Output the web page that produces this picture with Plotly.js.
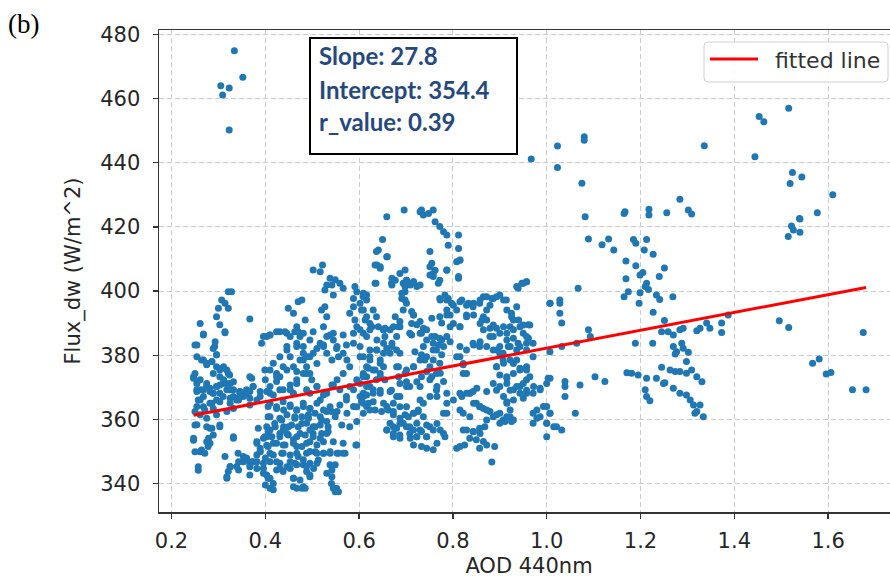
<!DOCTYPE html>
<html>
<head>
<meta charset="utf-8">
<script src="https://cdn.plot.ly/plotly-3.0.1.min.js"></script>
<style>
html,body{margin:0;padding:0;overflow:hidden;background:#fff;}
#chart{width:899px;height:579px;}
</style>
</head>
<body>
<div id="chart"></div>
<script>
// ---- data (AOD 440nm, Flux_dw) ----
const outlierPts = [[0.334,474.9],[0.352,466.7],[0.305,464.0],[0.323,463.3],[0.309,461.1],[0.323,450.2]];

const leftClusterPts = [
[0.321,399.8],[0.328,399.8],[0.307,397.2],[0.314,396.2],[0.300,394.6],[0.321,394.6],[0.296,392.0],[0.303,389.5],[0.314,387.3],[0.292,382.7],[0.296,380.1],[0.261,389.9],[0.268,386.3],[0.254,383.2],[0.254,379.5],[0.247,373.3],[0.268,378.5],[0.275,377.0],[0.286,378.0],[0.296,376.4],[0.307,375.9],[0.318,375.4],[0.289,374.3],[0.303,373.3],[0.324,373.8],[0.310,371.2],[0.332,371.7],[0.296,370.2],[0.282,368.7],[0.324,369.2],[0.346,368.7],[0.367,368.7],[0.339,366.6],[0.367,391.3],[0.254,368.7],[0.268,367.1],
[0.254,371.2],[0.261,369.2],[0.275,370.2],[0.289,368.1],[0.303,370.7],[0.318,371.2],[0.332,369.2],[0.346,368.1],[0.360,369.2],[0.374,370.2],[0.389,368.7],[0.257,366.0],[0.268,363.9],[0.282,365.0],[0.296,366.0],[0.310,367.1],[0.325,366.6],[0.339,366.0],[0.353,367.1],[0.367,366.6],[0.250,362.4],[0.261,361.4],[0.275,360.3],[0.296,361.4],[0.318,362.4],[0.332,363.4],[0.254,358.3],[0.282,357.2],[0.303,357.7],[0.289,355.1],[0.247,353.5],[0.275,353.0],[0.261,349.9],[0.250,349.9],[0.278,351.5],[0.332,354.1],[0.257,344.1],[0.342,349.4],[0.325,345.3],[0.321,343.7],[0.318,341.6],[0.339,345.3],[0.353,346.8],[0.367,345.8],[0.360,347.9],[0.382,344.7],[0.374,346.8],[0.367,342.6],[0.389,351.0],[0.382,353.0],[0.396,354.1],[0.403,351.9],[0.385,357.2],[0.406,356.2]
];

const denseLowPts = [
[0.268,386.6],[0.314,387.0],[0.250,383.2],[0.293,384.2],[0.289,382.1],[0.296,380.1],[0.264,378.5],[0.275,377.5],[0.286,378.0],[0.250,374.3],[0.247,372.8],[0.261,372.3],[0.275,371.2],[0.254,369.2],[0.268,369.2],[0.282,369.7],[0.289,368.1],[0.303,368.1],[0.296,370.2],[0.311,372.3],[0.321,374.3],[0.325,371.2],[0.318,369.2],[0.303,375.4],[0.311,376.4],[0.332,367.1],[0.346,368.6],[0.360,368.1],[0.343,366.0],[0.325,365.0],[0.303,365.5],[0.286,365.0],[0.261,366.0],[0.254,364.0],[0.271,362.9],[0.289,363.4],[0.371,372.8],[0.382,366.0],[0.367,364.5],[0.250,358.2],[0.275,357.7],[0.286,357.2],[0.303,358.2],[0.247,354.1],[0.279,354.1],[0.332,354.6],[0.264,350.4],[0.282,352.5],[0.257,345.2],[0.271,349.4],
[0.314,348.4],[0.325,345.2],[0.318,342.1],[0.343,346.8],[0.353,348.4],[0.360,347.3],[0.371,346.8],[0.382,348.9],[0.367,345.2],[0.343,344.2],
[0.403,385.8],[0.392,383.7],[0.410,386.3],[0.431,387.3],[0.446,386.8],[0.463,387.3],[0.481,386.8],[0.502,387.3],[0.531,385.8],[0.545,386.8],[0.566,386.3],[0.573,383.2],[0.552,382.1],[0.524,383.2],[0.510,382.1],[0.467,383.7],[0.481,380.6],[0.495,379.5],[0.446,381.6],[0.431,379.5],[0.417,377.5],[0.399,375.4],[0.424,374.3],[0.446,375.4],[0.467,374.9],[0.488,374.3],[0.499,372.3],[0.510,370.2],[0.531,368.1],[0.545,370.7],[0.559,369.2],[0.573,367.1],[0.588,369.2],[0.602,371.2],[0.616,373.3],[0.630,375.4],[0.645,378.5],[0.623,381.6],[0.602,379.5],[0.588,383.7],[0.467,371.2],[0.453,369.2],[0.431,369.2],[0.410,368.1],[0.495,368.1],[0.517,366.0],[0.431,373.3],
[0.406,364.0],[0.424,363.4],[0.439,362.9],[0.453,364.0],[0.467,362.9],[0.481,364.0],[0.495,363.4],[0.410,360.8],[0.431,360.3],[0.446,361.4],[0.463,360.3],[0.478,360.8],[0.492,361.4],[0.506,361.9],[0.517,360.8],[0.531,362.4],[0.403,357.7],[0.421,357.7],[0.439,357.7],[0.456,358.2],[0.470,357.7],[0.488,358.8],[0.502,357.7],[0.517,358.2],[0.531,359.3],[0.414,354.6],[0.431,355.6],[0.449,355.1],[0.467,354.6],[0.485,355.1],[0.502,355.6],[0.520,355.6],[0.534,356.2],[0.406,351.5],[0.424,352.5],[0.442,352.0],[0.460,352.5],[0.478,351.5],[0.495,353.0],[0.510,352.0],[0.524,353.0],[0.417,348.9],[0.435,349.4],[0.453,348.9],[0.470,348.4],[0.488,349.4],[0.506,349.9],[0.524,349.4],[0.538,349.9],[0.556,349.4],[0.570,349.4],[0.396,346.3],[0.410,346.8],[0.431,346.3],[0.446,345.2],[0.463,346.3],[0.481,345.8],[0.495,346.3],[0.513,347.3],[0.488,343.7],[0.396,343.2],[0.406,341.6],[0.417,340.0],[0.460,341.6],[0.474,341.1],[0.495,342.1],[0.531,343.2],[0.538,345.8],[0.541,340.0],[0.552,338.5],[0.460,339.0],[0.481,339.0],[0.382,352.5],[0.389,349.9],[0.399,354.6],
[0.541,362.4],[0.559,364.5],[0.573,366.0],[0.588,364.0],[0.605,365.5],[0.616,367.6],[0.630,369.2],[0.609,367.1],[0.616,364.0],[0.630,365.5],[0.637,372.3]
];

const centralClusterPts = [
[0.396,385.8],[0.410,386.3],[0.424,387.3],[0.442,387.3],[0.453,385.8],[0.446,382.7],[0.453,379.5],[0.438,376.4],[0.424,373.3],[0.410,375.4],[0.400,372.3],[0.410,370.2],[0.424,371.8],[0.438,369.2],[0.453,370.7],[0.467,372.3],[0.481,374.3],[0.460,376.4],[0.474,378.5],[0.488,376.4],[0.495,374.3],[0.510,370.2],[0.488,369.2],[0.460,368.1],[0.417,367.6],[0.403,368.7],[0.389,367.1],[0.374,370.2],[0.360,368.1],[0.367,373.3],
[0.449,394.6],[0.460,393.1],[0.470,396.7],[0.478,397.2],[0.485,391.0],[0.467,388.9],[0.470,387.3],[0.474,385.8],[0.467,382.7],[0.481,382.7],[0.495,384.7],[0.502,380.6],[0.488,379.5],[0.510,377.4],[0.481,378.5],
[0.502,406.6],[0.522,408.1],[0.517,406.0],[0.538,404.0],[0.549,403.5],[0.559,402.4],[0.566,400.9],[0.542,401.9],[0.531,401.9],[0.545,398.8],[0.527,400.3],
[0.410,365.0],[0.424,363.9],[0.438,365.5],[0.453,364.5],[0.467,362.9],[0.481,365.0],[0.495,363.4],[0.510,365.0],[0.524,362.9],[0.538,363.9],[0.553,362.4],[0.574,361.9],[0.595,363.9],[0.609,365.0],[0.623,362.9],
[0.406,360.8],[0.420,358.7],[0.435,359.8],[0.449,357.7],[0.463,360.8],[0.478,358.7],[0.492,360.3],[0.506,357.7],[0.520,359.8],[0.534,357.7],[0.549,360.8],[0.563,358.2],[0.580,357.7],[0.595,359.3],[0.410,356.7],[0.438,356.7],
[0.403,354.6],[0.417,352.5],[0.431,354.6],[0.446,355.6],[0.460,353.6],[0.474,355.6],[0.488,352.5],[0.502,354.6],[0.517,354.1],[0.531,355.6],[0.545,353.0],[0.566,352.5],[0.595,352.0],[0.438,352.0],[0.467,351.5],[0.495,356.7],
[0.389,350.0],[0.400,347.9],[0.410,349.4],[0.424,346.8],[0.438,349.4],[0.453,346.8],[0.467,349.4],[0.481,347.4],[0.495,350.0],[0.510,349.4],[0.524,349.4],[0.538,349.4],[0.553,349.4],[0.566,349.4],[0.549,345.8],[0.510,346.3],[0.488,345.3],[0.467,345.8],[0.453,344.7],
[0.382,346.8],[0.396,344.7],[0.403,342.6],[0.410,341.6],[0.400,339.5],[0.410,338.5],[0.417,338.0],[0.424,344.2],[0.431,344.7],[0.438,343.7],[0.460,341.6],[0.467,338.5],[0.478,338.5],[0.485,338.5],[0.503,344.7],[0.495,342.6],[0.542,344.2],[0.542,342.1],[0.545,338.5],[0.556,337.4],[0.549,337.4]
];

const midClusterPts = [
[0.520,394.1],[0.527,395.1],[0.531,392.0],[0.524,388.9],[0.517,383.7],[0.538,386.3],[0.545,384.7],[0.553,382.7],[0.524,382.7],[0.531,380.6],[0.542,378.5],[0.556,379.5],[0.566,380.6],[0.574,378.5],[0.580,376.4],[0.566,374.3],[0.553,372.3],[0.580,370.2],[0.595,372.3],[0.609,374.3],[0.616,376.4],[0.623,379.5],[0.638,381.6],[0.652,383.7],[0.652,376.4],[0.666,380.6],[0.680,381.6],[0.680,376.4],[0.655,372.3],[0.645,374.3],[0.623,370.2],[0.609,368.1],[0.542,370.7],[0.524,367.6],
[0.591,401.4],[0.595,399.8],[0.588,397.7],[0.609,398.2],[0.616,398.8],[0.602,396.2],[0.588,395.1],[0.609,394.1],[0.616,392.0],[0.623,389.9],[0.580,393.1],[0.591,391.0],[0.595,388.9],[0.588,386.8],[0.609,386.8],[0.627,388.9],[0.638,384.7],[0.652,387.9],[0.666,387.9],[0.670,383.7],[0.684,388.9],
[0.650,416.1],[0.641,412.8],[0.660,410.7],[0.638,408.1],[0.645,407.1],[0.636,402.4],[0.659,423.2],
[0.696,425.3],[0.730,424.7],[0.737,423.7],[0.748,424.2],[0.758,425.3],[0.733,425.3],[0.762,421.6],[0.772,420.1],[0.780,418.5],[0.787,417.5],[0.790,414.3],[0.812,417.5],[0.812,413.3],[0.815,409.6],[0.808,409.1],[0.812,404.5],[0.787,406.5],[0.751,412.3],[0.755,408.7],[0.762,406.5],[0.758,404.5],[0.769,402.4],
[0.698,406.6],[0.701,403.4],[0.694,402.4],[0.709,401.9],[0.716,402.9],[0.723,401.4],[0.698,399.8],[0.691,397.7],[0.698,397.2],[0.670,404.0],[0.670,401.9],
[0.783,398.8],[0.773,397.2],[0.790,397.7],[0.797,396.2],[0.787,394.1],[0.794,392.5],[0.808,394.1],[0.819,397.2],[0.833,396.2],[0.843,395.1],[0.857,396.2],[0.865,398.2],[0.872,394.1],[0.879,395.6],[0.886,397.7],[0.900,398.8],[0.914,397.2],[0.865,392.0],[0.862,391.0],[0.829,392.5],[0.815,388.9],[0.794,388.9],[0.776,390.0],[0.755,391.5],
[0.939,400.9],[0.957,402.9],[0.950,402.4],
[0.925,393.1],[0.929,391.0],[0.936,395.1],[0.922,388.9],[0.943,388.9],[0.961,389.5],[0.961,385.3],[0.950,386.8],[0.915,386.8],[0.893,388.4],[0.879,385.8],[0.929,385.3],[0.939,383.7],[0.957,383.7],[0.957,381.6],[0.936,381.6],[0.918,382.7],[0.900,382.7],[0.907,380.6],
[0.652,387.9],[0.655,385.8],[0.659,382.2],[0.677,392.0],[0.687,388.9],[0.680,385.8],[0.670,382.7],[0.687,380.6],[0.684,376.4],[0.701,375.4],[0.716,376.4],[0.719,381.1],[0.733,380.1],[0.740,378.5],[0.758,381.6],[0.769,383.2],[0.762,385.8],[0.776,384.7],[0.758,378.5],[0.773,374.4],[0.751,372.3],[0.780,371.8],[0.733,386.8],[0.712,386.3],[0.723,389.5],[0.737,388.4],[0.712,393.6],[0.716,392.5],
[0.808,379.5],[0.822,377.4],[0.822,374.3],[0.843,383.7],[0.857,382.7],[0.893,381.6],[0.907,378.5],[0.893,376.4],[0.915,373.3],[0.929,377.4],[0.943,375.4],[0.957,376.4],[0.957,372.3],[0.943,370.2],[0.929,369.2],[0.900,370.2],[0.886,371.2],[0.872,368.7],[0.851,369.7],[0.836,368.1],[0.819,367.1],[0.787,368.1],[0.766,370.2],[0.766,367.1],[0.730,370.2],[0.701,370.2],[0.687,367.1],[0.666,368.7],[0.645,373.3],[0.645,368.1],
[0.730,366.0],[0.652,365.0],[0.662,362.9],[0.673,362.4],[0.687,363.9],[0.701,363.9],[0.698,361.4],[0.716,361.9],[0.726,362.4],[0.737,360.8],[0.751,357.7],[0.766,358.7],[0.773,356.7],[0.780,355.6],[0.787,361.9],[0.783,354.6],[0.766,352.5],[0.758,350.5],[0.744,351.0],[0.733,351.5],[0.716,352.0],[0.709,354.1],[0.687,354.1],[0.673,355.6],[0.659,356.7],[0.673,357.7],[0.687,358.7],[0.701,357.7],[0.716,356.7],[0.730,356.7],[0.744,354.6],[0.723,354.6],
[0.815,362.9],[0.822,361.9],[0.836,368.1],[0.843,368.7],[0.850,365.0],[0.857,363.9],[0.865,363.4],[0.879,362.4],[0.893,361.4],[0.907,359.8],[0.922,360.8],[0.925,359.3],[0.911,359.3],[0.829,356.7],[0.843,356.1],[0.857,357.2],[0.868,357.7],[0.836,354.1],[0.850,353.6],[0.865,353.1],[0.857,351.0],[0.872,352.0],[0.889,351.5],[0.808,351.0],[0.815,351.5],[0.825,352.0],[0.883,346.7],
[0.915,371.2],[0.957,368.1],[0.972,370.2],[0.986,369.2],[0.915,365.5],[0.950,366.6],[0.979,362.9],[0.986,360.8],[1.000,364.0],[1.007,361.9],[1.015,357.7],[1.032,356.7],[1.000,358.8],[0.979,360.3],[1.061,361.9],[1.039,371.8],[0.593,352.0]
];

const denseMidPts = [
[0.637,412.3],[0.659,410.7],[0.634,408.1],[0.645,407.6],[0.609,399.3],[0.616,397.2],[0.605,394.1],[0.630,394.1],[0.613,391.0],[0.637,392.0],[0.623,387.9],[0.602,387.9],[0.616,385.8],[0.641,388.9],[0.655,388.4],[0.673,388.9],[0.687,390.5],[0.694,394.1],[0.701,396.2],[0.691,399.3],[0.698,401.4],[0.701,403.4],[0.708,402.4],[0.716,402.9],[0.730,401.9],[0.687,405.5],[0.677,403.4],[0.669,402.4],[0.634,402.4],[0.751,407.6],[0.758,405.5],[0.751,405.0],[0.772,403.4],[0.787,406.6],[0.815,409.7],[0.812,404.0],[0.772,397.7],[0.787,397.2],[0.801,395.6],[0.815,396.7],[0.829,395.6],[0.844,396.2],[0.858,397.2],[0.872,398.2],[0.883,397.7],[0.893,398.2],[0.908,397.2],[0.915,394.1],[0.925,392.0],[0.940,391.0],[0.950,389.4],[0.964,389.4],[0.936,401.4],[0.947,402.4],[0.957,402.9],[1.007,396.2],[1.028,396.2],
[0.716,392.5],[0.730,390.5],[0.744,387.9],[0.755,385.8],[0.772,385.3],[0.787,385.8],[0.794,384.2],[0.780,382.7],[0.765,381.6],[0.758,383.7],[0.744,384.7],[0.730,386.8],[0.708,386.8],[0.712,389.9],[0.772,392.0],[0.787,392.5],[0.801,389.9],[0.815,388.9],[0.829,392.0],[0.844,392.5],[0.858,389.9],[0.872,391.0],[0.879,388.4],[0.886,385.8],[0.900,386.8],[0.915,384.7],[0.922,382.7],[0.943,382.7],[0.957,385.8],[0.971,383.7],[0.815,382.7],[0.829,381.6],[0.844,383.2],[0.858,384.2],[0.872,382.7],[0.886,381.6],[0.900,380.6],[0.815,379.5],[0.822,377.0],[0.829,374.3],[0.922,378.5],[0.936,378.5],[0.908,377.5],[0.893,376.4],[0.900,373.8],[0.915,372.8],[0.929,374.3],[0.943,375.9],[0.957,375.4],[0.964,373.3],[0.950,371.2],[0.936,370.2],[0.922,369.1],[0.908,367.1],[0.893,369.1],[0.915,365.0],[0.929,366.0],[0.943,368.1],[0.957,369.1],[0.971,368.1],[0.986,369.7],[1.000,371.2],[1.003,372.8],[0.971,379.5],[0.929,387.9],[0.908,388.9],[0.886,389.4],[0.865,387.9],
[0.602,382.7],[0.609,379.5],[0.623,378.5],[0.637,381.6],[0.652,380.6],[0.645,377.5],[0.634,375.4],[0.620,375.9],[0.609,373.3],[0.616,370.2],[0.630,368.1],[0.645,369.1],[0.602,367.1],[0.620,365.0],[0.634,362.9],[0.609,361.9],[0.648,362.4],[0.659,364.0],[0.673,365.0],[0.680,367.1],[0.669,369.1],[0.687,371.2],[0.684,373.3],[0.698,374.3],[0.701,371.7],[0.708,370.2],[0.723,371.7],[0.733,373.3],[0.716,376.4],[0.730,378.5],[0.744,379.5],[0.751,376.4],[0.737,382.7],[0.744,374.9],[0.755,373.3],[0.765,374.3],[0.772,377.5],[0.776,380.1],[0.765,369.1],[0.751,367.1],[0.737,365.0],[0.726,362.9],[0.716,361.9],[0.705,360.8],[0.687,360.3],[0.673,361.4],[0.666,358.8],[0.680,357.2],[0.659,356.7],[0.694,358.8],[0.708,357.7],[0.723,358.8],[0.744,358.2],[0.733,356.2],[0.708,355.6],[0.687,355.1],[0.673,354.6],[0.723,354.6],[0.744,354.6],[0.758,356.7],[0.780,361.9],[0.787,365.0],[0.801,366.0],[0.815,368.1],[0.829,368.1],[0.844,365.0],[0.858,364.0],[0.872,362.9],[0.886,360.8],[0.900,361.9],[0.915,360.8],[0.922,362.9],[0.872,359.8],[0.836,360.8],[0.822,356.7],[0.844,356.2],[0.858,355.6],[0.900,358.8],[0.929,359.8],[0.971,361.9],[0.993,364.0],[1.007,361.9],[1.000,358.8],[0.971,358.8],[1.000,354.6],[1.021,357.7]
];

const highAodPts = [
[1.007,396.2],[1.028,397.2],[1.028,393.1],[1.032,390.0],[1.067,400.9],[1.089,416.2],[1.118,414.4],[1.132,416.2],[1.143,412.8],[1.007,381.1],[1.032,382.7],[1.064,383.7],[1.089,387.9],[1.093,385.8],[1.103,373.3],[1.124,371.8],[1.071,370.7],[1.039,370.2],[1.007,372.8],[1.039,367.1],
[0.967,441.2],[1.023,445.2],[1.023,438.5],[1.080,448.1],[1.080,447.0],[1.075,433.6],[1.082,423.2],[1.167,424.7],
[1.336,445.3],[1.444,441.9],[1.453,454.4],[1.463,452.8],[1.516,457.0],[1.524,437.0],[1.544,435.6],[1.519,433.5],[1.610,430.0],[1.577,424.4],[1.539,422.6],[1.284,428.6],[1.256,424.4],[1.218,425.5],[1.218,423.7],[1.165,424.2],[1.302,425.3],[1.309,424.0],
[1.185,416.1],[1.190,414.9],[1.213,416.1],[1.208,412.8],[1.227,411.5],[1.169,409.4],[1.190,407.9],[1.205,405.8],[1.199,405.0],[1.251,407.2],[1.240,404.5],[1.169,403.8],[1.213,402.4],[1.210,401.4],[1.217,400.5],[1.174,399.8],[1.165,398.2],[1.199,399.5],[1.234,398.8],[1.241,397.4],[1.269,398.2],[1.197,396.2],[1.227,393.4],[1.251,390.8],[1.245,387.3],[1.259,387.3],[1.270,386.3],[1.284,387.9],[1.291,388.4],[1.320,387.6],[1.327,388.4],[1.341,390.0],[1.348,388.4],[1.373,390.0],[1.373,387.1],[1.387,392.5],
[1.189,383.7],[1.226,383.7],[1.270,382.7],[1.277,381.1],[1.288,383.7],[1.291,382.2],[1.302,380.9],[1.274,380.4],[1.298,378.0],[1.245,376.2],[1.263,375.4],[1.274,374.9],[1.284,374.9],[1.298,374.4],[1.309,375.4],[1.320,373.3],[1.331,371.7],
[1.171,374.5],[1.181,374.4],[1.195,373.8],[1.213,372.8],[1.234,372.8],[1.252,371.4],[1.270,369.7],[1.284,368.1],[1.298,367.6],[1.210,369.2],[1.213,367.1],
[1.515,417.0],[1.522,420.3],[1.540,422.5],[1.540,418.3],[1.526,419.0],
[1.496,390.7],[1.516,388.6],[1.675,387.1],[1.567,377.5],[1.581,378.8],[1.596,374.1],[1.606,374.6],[1.652,369.2],[1.681,369.2],
[1.220,365.8],[1.249,371.2],[1.306,366.0],[1.313,364.5],[1.327,364.5],[1.320,362.4],[1.316,361.9],[1.334,360.8]
];

const fitSlope = 27.8;
const fitIntercept = 354.4;
const rValue = 0.39;
const xTickVals = [0.2,0.4,0.6,0.8,1.0,1.2,1.4,1.6];
const yTickVals = [340,360,380,400,420,440,460,480];

// ---- build ----
const allPts = [].concat(outlierPts, leftClusterPts, denseLowPts, centralClusterPts, midClusterPts, denseMidPts, highAodPts);
const aod = allPts.map(p => p[0]);
const flux = allPts.map(p => p[1]);
const xMin = Math.min(...aod), xMax = Math.max(...aod);
const fitX = [xMin, xMax];
const fitY = fitX.map(x => fitIntercept + fitSlope * x);

const W = 899, H = 579;
const mL = 159, mR = 0, mT = 30, mB = 67;
const pw = W - mL - mR, ph = H - mT - mB;
const px = v => (v - mL) / pw;          // pixel -> paper x
const py = v => (H - mB - v) / ph;      // pixel -> paper y

const tickFont = {family: 'DejaVu Sans', size: 21, color: '#262626'};
const textBlue = '#25497e';

const traces = [
  {type: 'scatter', mode: 'markers', x: aod, y: flux, showlegend: false,
   marker: {color: '#1f77b4', size: 7, line: {width: 0}}, cliponaxis: true},
  {type: 'scatter', mode: 'lines', x: fitX, y: fitY, name: 'fitted line', showlegend: false,
   line: {color: '#ff0000', width: 3}}
];

function roundRect(x0, y0, x1, y1, r) {
  const X = v => px(v), Y = v => py(v);
  return `M ${X(x0 + r)} ${Y(y0)} L ${X(x1 - r)} ${Y(y0)} Q ${X(x1)} ${Y(y0)} ${X(x1)} ${Y(y0 + r)} ` +
         `L ${X(x1)} ${Y(y1 - r)} Q ${X(x1)} ${Y(y1)} ${X(x1 - r)} ${Y(y1)} L ${X(x0 + r)} ${Y(y1)} ` +
         `Q ${X(x0)} ${Y(y1)} ${X(x0)} ${Y(y1 - r)} L ${X(x0)} ${Y(y0 + r)} Q ${X(x0)} ${Y(y0)} ${X(x0 + r)} ${Y(y0)} Z`;
}

const layout = {
  width: W, height: H,
  margin: {l: mL, r: mR, t: mT, b: mB, pad: 0},
  paper_bgcolor: '#ffffff', plot_bgcolor: '#ffffff',
  showlegend: false,
  xaxis: {
    range: [0.1733, 1.7512], tickvals: xTickVals, tickformat: '.1f',
    ticks: 'outside', ticklen: 5, tickwidth: 1.3, tickcolor: '#333',
    tickfont: tickFont, ticklabelstandoff: 4,
    showline: true, linecolor: '#333', linewidth: 1.5, mirror: true,
    showgrid: true, gridcolor: '#cccccc', gridwidth: 1, griddash: '5px,3px',
    zeroline: false, automargin: false,
    title: {text: 'AOD 440nm', font: {family: 'DejaVu Sans', size: 21, color: '#262626'}, standoff: 6}
  },
  yaxis: {
    range: [331.1, 481.4], tickvals: yTickVals,
    ticks: 'outside', ticklen: 5, tickwidth: 1.3, tickcolor: '#333',
    tickfont: tickFont, ticklabelstandoff: 8,
    showline: true, linecolor: '#333', linewidth: 1.5, mirror: false,
    showgrid: true, gridcolor: '#cccccc', gridwidth: 1, griddash: '5px,3px',
    zeroline: false, automargin: false,
    title: {text: 'Flux_dw (W/m^2)', font: {family: 'DejaVu Sans', size: 21, color: '#262626'}, standoff: 14}
  },
  shapes: [
    {type: 'rect', xref: 'paper', yref: 'paper', x0: px(310), x1: px(517), y0: py(154), y1: py(38),
     line: {color: '#000000', width: 2}, fillcolor: '#ffffff', layer: 'above'},
    {type: 'path', xref: 'paper', yref: 'paper', path: roundRect(704, 42, 888, 82, 4),
     line: {color: '#d0d0d0', width: 1}, fillcolor: 'rgba(255,255,255,0.85)', layer: 'above'},
    {type: 'line', xref: 'paper', yref: 'paper', x0: px(710), x1: px(758), y0: py(59), y1: py(59),
     line: {color: '#ff0000', width: 3}, layer: 'above'}
  ],
  annotations: [
    {xref: 'paper', yref: 'paper', x: px(317), y: py(55), xanchor: 'left', yanchor: 'middle', showarrow: false,
     text: '<b>Slope: ' + fitSlope.toFixed(1) + '</b>', font: {family: 'Lato', size: 24, color: textBlue}},
    {xref: 'paper', yref: 'paper', x: px(317), y: py(89), xanchor: 'left', yanchor: 'middle', showarrow: false,
     text: '<b>Intercept: ' + fitIntercept.toFixed(1) + '</b>', font: {family: 'Lato', size: 24, color: textBlue}},
    {xref: 'paper', yref: 'paper', x: px(317), y: py(121), xanchor: 'left', yanchor: 'middle', showarrow: false,
     text: '<b>r_value: ' + rValue.toFixed(2) + '</b>', font: {family: 'Lato', size: 24, color: textBlue}},
    {xref: 'paper', yref: 'paper', x: px(773), y: py(60), xanchor: 'left', yanchor: 'middle', showarrow: false,
     text: 'fitted line', font: {family: 'DejaVu Sans', size: 22, color: '#333333'}},
    {xref: 'paper', yref: 'paper', x: px(6), y: py(24), xanchor: 'left', yanchor: 'middle', showarrow: false,
     text: '(b)', font: {family: 'Liberation Serif', size: 27, color: '#000000'}}
  ]
};

Plotly.newPlot('chart', traces, layout, {displayModeBar: false, staticPlot: true});
</script>
</body>
</html>
